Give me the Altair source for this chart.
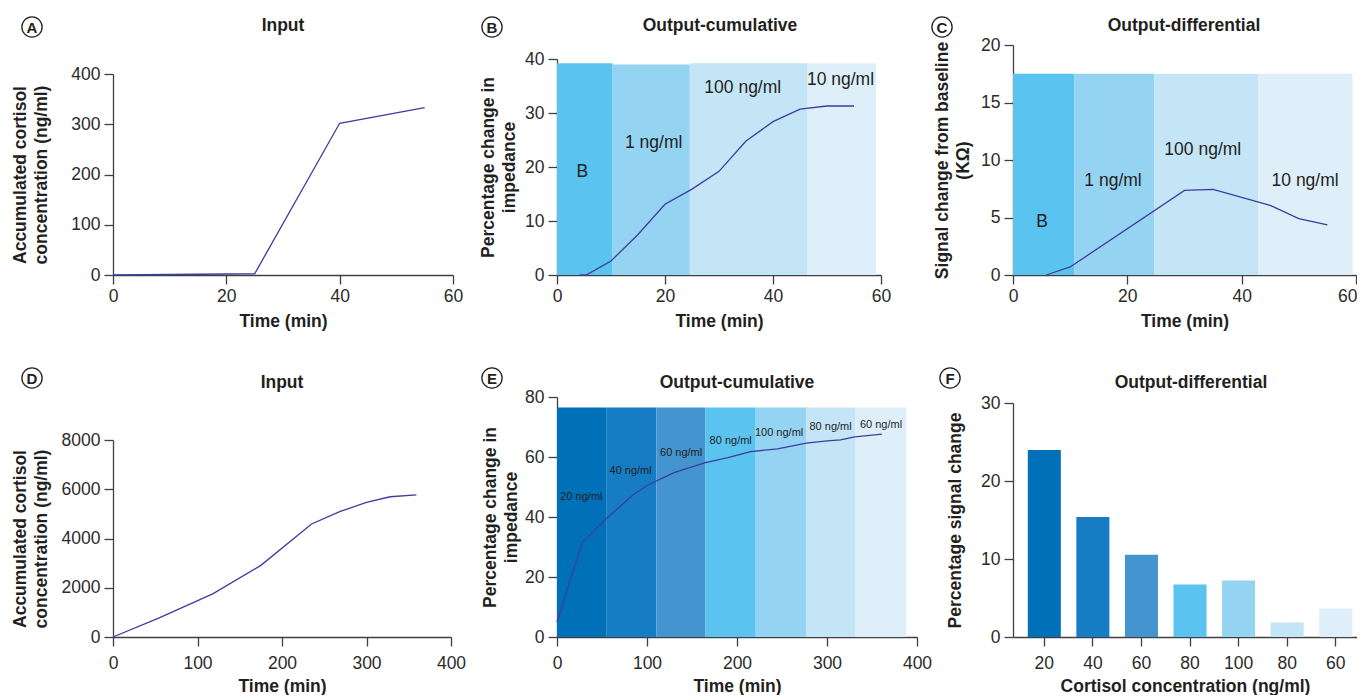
import altair as alt
import pandas as pd

FONT = "Liberation Sans"
INK = "#231f20"
LINE = "#3d3d9f"
AXIS = "#404040"
SHADES = ["#0070b9", "#167cc3", "#4394cf", "#5ac3ef", "#95d3f2", "#c3e5f6", "#deeffa"]

# ---------------- Panel A : Input ----------------
a_time = [0, 25, 40, 55]
a_conc = [0, 2.5, 302, 333]

# ---------------- Panel B : Output-cumulative ----------------
b_time = [4.2, 5.4, 10, 15, 20, 25, 30, 35, 40, 45, 50, 55]
b_imp = [0, 0, 2.6, 7.5, 13.1, 15.9, 19.2, 24.8, 28.4, 30.7, 31.3, 31.3]
b_band_start = [0, 10.3, 24.6, 46.3]
b_band_end = [10.3, 24.6, 46.3, 59.1]
b_band_top = [39.2, 39.0, 39.2, 39.2]
b_labels = ["B", "1 ng/ml", "100 ng/ml", "10 ng/ml"]
b_label_x = [4.7, 17.9, 34.4, 52.5]
b_label_y = [19.0, 24.5, 34.6, 36.1]

# ---------------- Panel C : Output-differential ----------------
c_time = [5.8, 10, 30, 35, 45, 50, 55]
c_signal = [0, 0.7, 7.35, 7.45, 6.05, 4.9, 4.35]
c_band_start = [0, 10.7, 24.7, 42.9]
c_band_end = [10.7, 24.7, 42.9, 59.4]
c_band_top = [17.5, 17.5, 17.5, 17.5]
c_labels = ["B", "1 ng/ml", "100 ng/ml", "10 ng/ml"]
c_label_x = [5.1, 17.5, 33.2, 51.1]
c_label_y = [4.6, 8.2, 10.9, 8.2]

# ---------------- Panel D : Input ----------------
d_time = [0, 54, 118, 175, 235, 269, 300, 328, 359]
d_conc = [0, 770, 1750, 2910, 4590, 5100, 5465, 5695, 5775]

# ---------------- Panel E : Output-cumulative ----------------
e_time = [0, 28, 55, 85, 100, 130, 165, 190, 215, 245, 277, 300, 315, 331, 361]
e_imp = [5, 31.5, 39.5, 47.5, 50.5, 54.8, 58.1, 59.8, 61.8, 62.7, 64.6, 65.4, 65.7, 66.7, 67.6]
e_band_start = [0, 54.6, 110.4, 165.1, 220.8, 276.6, 331.2]
e_band_end = [54.6, 110.4, 165.1, 220.8, 276.6, 331.2, 388.1]
e_band_top = [76.5, 76.5, 76.5, 76.5, 76.5, 76.5, 76.5]
e_labels = ["20 ng/ml", "40 ng/ml", "60 ng/ml", "80 ng/ml", "100 ng/ml", "80 ng/ml", "60 ng/ml"]
e_label_x = [27.1, 81.8, 137.9, 193, 246.8, 304, 360]
e_label_y = [46.7, 55.3, 61.3, 65.3, 67.9, 69.9, 70.6]

# ---------------- Panel F : Output-differential ----------------
f_conc_labels = ["20", "40", "60", "80", "100", "80", "60"]
f_change = [23.96, 15.4, 10.55, 6.72, 7.23, 1.87, 3.66]


def decor(ch, dx, dy, title, tx, ty):
    """Circled panel letter and panel title, placed relative to the plot area."""
    df = pd.DataFrame({"letter": [ch], "title": [title]})
    ring = alt.Chart(df).mark_point(shape="circle", size=410, filled=False, color=INK,
                                    strokeWidth=1.3, opacity=1).encode(
        x=alt.value(dx), y=alt.value(dy))
    txt = alt.Chart(df).mark_text(font=FONT, fontSize=15, fontWeight="bold", color=INK,
                                  align="center", baseline="middle", dy=1).encode(
        x=alt.value(dx), y=alt.value(dy), text="letter:N")
    ttl = alt.Chart(df).mark_text(font=FONT, fontSize=17.5, fontWeight="bold", color=INK,
                                  align="center", baseline="middle").encode(
        x=alt.value(tx), y=alt.value(ty), text="title:N")
    return [ring, txt, ttl]


def bands(starts, ends, tops, colors, x, y):
    df = pd.DataFrame({"s": starts, "e": ends, "y0": [0] * len(starts), "top": tops,
                       "fill": colors})
    return alt.Chart(df).mark_rect().encode(
        x=x("s"), x2="e", y=y("y0"), y2="top",
        color=alt.Color("fill:N", scale=None))


def band_labels(lx, ly, labels, x, y, size):
    df = pd.DataFrame({"lx": lx, "ly": ly, "label": labels})
    return alt.Chart(df).mark_text(font=FONT, fontSize=size, color=INK, align="center",
                                   baseline="middle").encode(
        x=x("lx"), y=y("ly"), text="label:N")


def line(xs, ys, x, y):
    df = pd.DataFrame({"t": xs, "v": ys})
    return alt.Chart(df).mark_line(color=LINE, strokeWidth=1.3).encode(x=x("t"), y=y("v"))


def make_x(domain, rng, values, title, lp, tp, last_right=False):
    extra = {}
    if last_right:
        # keep the last label inside the page edge
        extra = dict(labelAlign=alt.expr(f"datum.value == {values[-1]} ? 'right' : 'center'"),
                     labelOffset=alt.expr(f"datum.value == {values[-1]} ? 1 : 0"))
    ax = alt.Axis(values=values, title=title, labelPadding=lp, titlePadding=tp,
                  labelAngle=0, format="d", labelFlush=False, **extra)
    sc = alt.Scale(domain=domain, range=rng, nice=False)
    return lambda f: alt.X(f"{f}:Q", scale=sc, axis=ax)


def make_y(domain, rng, values, title, tp):
    ax = alt.Axis(values=values, title=title, titlePadding=tp, format="d")
    sc = alt.Scale(domain=domain, range=rng, nice=False)
    return lambda f: alt.Y(f"{f}:Q", scale=sc, axis=ax)


H1 = 230
H2 = 240
W1 = 340
W2 = 352
W3 = 344
LP1, TP1 = 3, 8
LP2, TP2 = 8, 6
T1 = -19
T2 = -14

# Panel A
xA = make_x([0, 60], [0, 340], [0, 20, 40, 60], "Time (min)", LP1, TP1)
yA = make_y([0, 400], [H1, 29], [0, 100, 200, 300, 400],
            ["Accumulated cortisol", "concentration (ng/ml)"], 20)
A = alt.layer(line(a_time, a_conc, xA, yA),
              *decor("A", -81, -18, "Input", 170, T1)).properties(width=W1, height=H1)

# Panel B
xB = make_x([0, 60], [0, 324], [0, 20, 40, 60], "Time (min)", LP1, TP1)
yB = make_y([0, 40], [H1, 14], [0, 10, 20, 30, 40], ["Percentage change in", "impedance"], 6)
B = alt.layer(
    bands(b_band_start, b_band_end, b_band_top, SHADES[3:], xB, yB),
    line(b_time, b_imp, xB, yB),
    band_labels(b_label_x, b_label_y, b_labels, xB, yB, 17.5),
    *decor("B", -65, -18, "Output-cumulative", 163, T1)).properties(width=W2, height=H1)

# Panel C
xC = make_x([0, 60], [0, 343], [0, 20, 40, 60], "Time (min)", LP1, TP1, last_right=True)
yC = make_y([0, 20], [H1, 0], [0, 5, 10, 15, 20], ["Signal change from baseline", "(KΩ)"], 8)
C = alt.layer(
    bands(c_band_start, c_band_end, c_band_top, SHADES[3:], xC, yC),
    line(c_time, c_signal, xC, yC),
    band_labels(c_label_x, c_label_y, c_labels, xC, yC, 17.5),
    *decor("C", -71, -18, "Output-differential", 171, T1)).properties(width=W3, height=H1)

# Panel D
xD = make_x([0, 400], [0, 338], [0, 100, 200, 300, 400], "Time (min)", LP2, TP2)
yD = make_y([0, 8000], [H2, 43], [0, 2000, 4000, 6000, 8000],
            ["Accumulated cortisol", "concentration (ng/ml)"], 10.5)
D = alt.layer(line(d_time, d_conc, xD, yD),
              *decor("D", -81, -19, "Input", 169, T2)).properties(width=W1, height=H2)

# Panel E
xE = make_x([0, 400], [0, 360], [0, 100, 200, 300, 400], "Time (min)", LP2, TP2)
yE = make_y([0, 80], [H2, 0], [0, 20, 40, 60, 80], ["Percentage change in", "impedance"], 4.5)
E = alt.layer(
    bands(e_band_start, e_band_end, e_band_top, SHADES, xE, yE),
    line(e_time, e_imp, xE, yE),
    band_labels(e_label_x, e_label_y, e_labels, xE, yE, 11),
    *decor("E", -65, -19, "Output-cumulative", 180, T2)).properties(width=W2, height=H2)

# Panel F
label_expr = "[" + ",".join(f"'{s}'" for s in f_conc_labels) + "][datum.value]"
dfF = pd.DataFrame({"idx": list(range(len(f_change))), "val": f_change, "fill": SHADES})
F = alt.layer(
    alt.Chart(dfF).mark_bar().encode(
        x=alt.X("idx:O", scale=alt.Scale(paddingInner=0.32, paddingOuter=0.2013, align=0.757),
                axis=alt.Axis(labelExpr=label_expr, labelAngle=0, labelPadding=LP2,
                              titlePadding=TP2, title="Cortisol concentration (ng/ml)")),
        y=alt.Y("val:Q", scale=alt.Scale(domain=[0, 30], range=[H2, 6], nice=False),
                axis=alt.Axis(values=[0, 10, 20, 30], title="Percentage signal change",
                              titlePadding=16, format="d")),
        color=alt.Color("fill:N", scale=None)),
    *decor("F", -63, -19, "Output-differential", 178, T2)).properties(width=W3, height=H2)

chart = alt.concat(A, B, C, D, E, F, columns=3, bounds="flush",
                   spacing={"row": 122, "column": 104}).properties(
    padding={"left": 3, "top": 6, "right": 0, "bottom": 0},
    background="white",
).configure_view(stroke=None).configure_axis(
    labelFont=FONT, titleFont=FONT, labelFontSize=17.5, titleFontSize=17.5,
    titleFontWeight="bold", labelColor="#2b2b2b", titleColor=INK,
    domainColor=AXIS, tickColor=AXIS, domainWidth=1.3, tickWidth=1.3, tickSize=9,
    grid=False, titleLineHeight=21,
).configure_axisY(labelPadding=4)

chart.save("out.html", embed_options={"renderer": "svg", "actions": False})
